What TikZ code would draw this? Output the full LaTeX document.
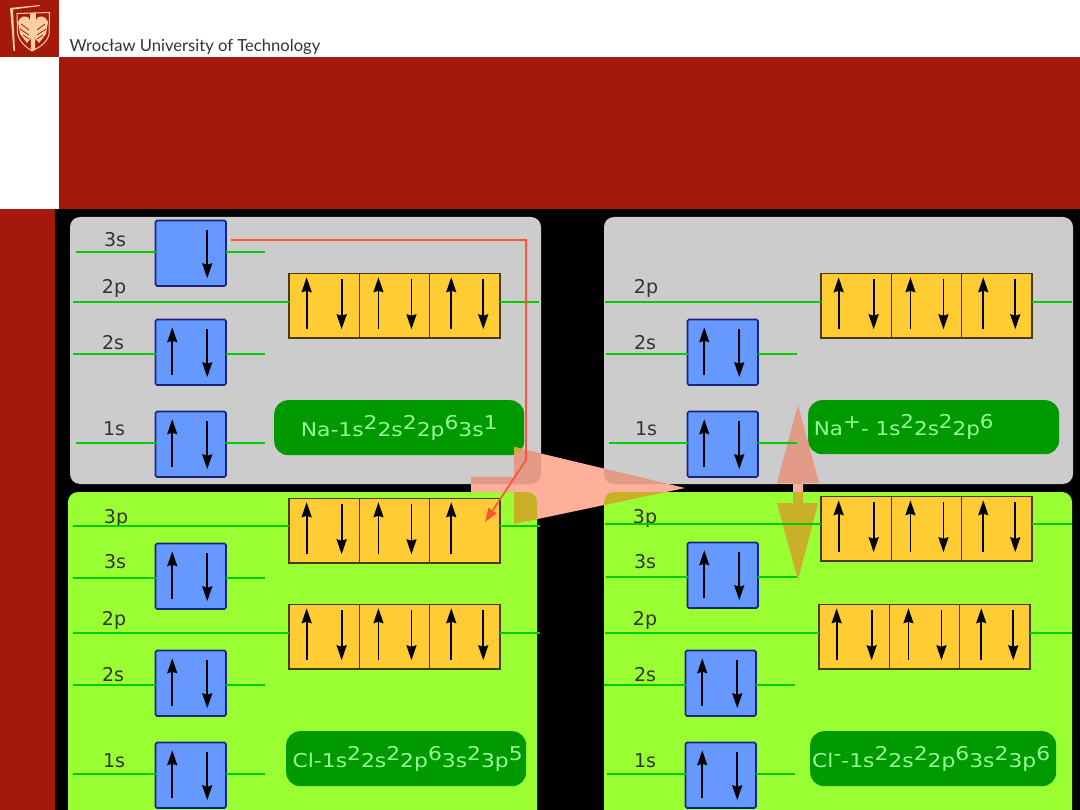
\documentclass[tikz,border=0pt]{standalone}
\usepackage{fontspec}
\usepackage{graphicx}
\setmainfont{DejaVu Sans}
\newfontfamily\brandfont{Lato}
\usetikzlibrary{arrows.meta}

\definecolor{brick}{HTML}{A5190D}
\definecolor{crest}{HTML}{FBCFA0}
\definecolor{panelgray}{HTML}{CCCCCC}
\definecolor{panelgreen}{HTML}{99FF33}
\definecolor{levelgreen}{HTML}{00CC00}
\definecolor{pillgreen}{HTML}{009900}
\definecolor{pilltext}{HTML}{99FF99}
\definecolor{sblue}{HTML}{6699FF}
\definecolor{sborder}{HTML}{1A237E}
\definecolor{pyellow}{HTML}{FFCC33}
\definecolor{pborder}{HTML}{4A3A10}
\definecolor{jump}{HTML}{FF5533}
\definecolor{overblack}{HTML}{FFB09A}
\definecolor{overgray}{HTML}{E09A86}
\definecolor{overgreen}{HTML}{C8B028}

% arrow outlines, each used for several tinted fills
\newcommand{\transferpath}{(471,477) -- (514,477) -- (514,447) -- (685,488) -- (514,524) -- (514,492) -- (471,492) -- cycle}
\newcommand{\swappath}{(798,405) -- (819,483) -- (803,483) -- (803,503) -- (818,503) -- (798,580) -- (777,503) -- (793,503) -- (793,483) -- (777,483) -- cycle}

% s orbital, one box
\newcommand{\sorbital}[3]{\node[sorb] (#1) at (#2,#3) {};}
% p orbitals, three cells side by side
\newcommand{\porbital}[3]{
    \node[porb] (#1a) at (#2,#3) {};
    \node[porb] (#1b) at (#1a.north east) {};
    \node[porb] (#1c) at (#1b.north east) {};}
\newcommand{\spinsup}[1]{\draw[spin] ([shift={(-18.5,23)}]#1.center) -- ([shift={(-18.5,-25)}]#1.center);}
\newcommand{\spinsdown}[1]{\draw[spin] ([shift={(16.5,-23)}]#1.center) -- ([shift={(16.5,25)}]#1.center);}
\newcommand{\spinspair}[1]{\spinsup{#1}\spinsdown{#1}}
\newcommand{\spinpup}[2][-17.5]{\draw[spin] ([shift={(#1,23.5)}]#2.center) -- ([shift={(#1,-28.5)}]#2.center);}
\newcommand{\spinpdown}[2][17.5]{\draw[spin] ([shift={(#1,-26.5)}]#2.center) -- ([shift={(#1,23.5)}]#2.center);}
\newcommand{\spinpfull}[1]{
    \spinpup{#1a}\spinpdown{#1a}
    \spinpup[-16]{#1b}\spinpdown[17]{#1b}
    \spinpup[-13.5]{#1c}\spinpdown[18.5]{#1c}}
% level line: free ends left and right of the orbital nodes
\newcommand{\levelline}[6]{
    \coordinate (#1l) at (#2,#4);
    \coordinate (#1r) at (#3,#4);
    \draw[level] (#1l) -- (#5.west |- #1l);
    \draw[level] (#6.east |- #1r) -- (#1r);}
\newcommand{\hi}[1]{\raisebox{7pt}{#1}}

\begin{document}
\begin{tikzpicture}[
        x=1pt, y=-1pt,
        sorb/.style={rectangle, draw=sborder, line width=1.6pt, rounded corners=1.5pt, fill=sblue, anchor=north west, outer sep=0pt, minimum width=70.5pt, minimum height=65.5pt, inner sep=0pt},
        porb/.style={rectangle, draw=pborder, line width=1.5pt, fill=pyellow, anchor=north west, outer sep=0pt, minimum width=70.3pt, minimum height=64.5pt, inner sep=0pt},
        level/.style={draw=levelgreen, line width=1.5pt},
        spin/.style={draw=black, line width=1.8pt, -{Stealth[length=15pt, width=10pt, inset=1.5pt]}},
        shell/.style={font=\fontsize{19}{19}\selectfont, text=black!80, inner sep=0pt},
        pill/.style={rectangle, rounded corners=14pt, fill=pillgreen, text=pilltext, anchor=north west, inner sep=0pt, font=\fontsize{19}{19}\selectfont},
    ]
    \useasboundingbox (0,0) rectangle (1080,810);

    % page background and title band
    \fill[white] (0,0) rectangle (1080,810);
    \fill[brick] (59,57) rectangle (1080,209);
    \fill[brick] (0,209) rectangle (55,810);
    \fill[black] (55,209) rectangle (1080,810);

    % crest
    \fill[brick] (0,0) rectangle (59,57);
    \fill[crest] (10,8) -- (40,5) -- (40,6) -- (13,9.5) -- (15,51) -- (13.5,51) -- cycle;
    \draw[crest, line width=1pt] (17,13.5) -- (49.5,12.5) -- (49,35) .. controls (46,44) and (38,48) .. (32,51) .. controls (26,47) and (19,42) .. (17.5,33) -- cycle;
    \fill[crest] (18,22) .. controls (20,16) and (26,15) .. (29,18) -- (31,24) -- (31,38) -- (27,43) -- (20,34) -- cycle;
    \fill[crest] (48,22) .. controls (46,16) and (40,15) .. (37,18) -- (35,24) -- (35,38) -- (39,43) -- (46,34) -- cycle;
    \fill[crest] (30,13) -- (36,13) -- (35,50) -- (31,50) -- cycle;
    \draw[brick, line width=.8pt] (21,24) -- (29,30) (20,29) -- (29,35) (23,35) -- (29,39) (45,24) -- (37,30) (46,29) -- (37,35) (43,35) -- (37,39);
    \node[anchor=base west, inner sep=0pt, text=black!80, font=\brandfont\fontsize{16.6}{16.6}\selectfont] (brand) at (69.5,52) {Wrocław University of Technology};

    % panels
    \fill[panelgray, rounded corners=10pt] (70,217) rectangle (541,484);
    \fill[panelgray, rounded corners=10pt] (604,217) rectangle (1073,484);
    \fill[panelgreen, rounded corners=10pt] (68,492) rectangle (537,822);
    \fill[panelgreen, rounded corners=10pt] (604,492) rectangle (1072,822);

    % electron configurations
    \node[pill, minimum width=250pt, minimum height=55pt] (naconf) at (274,400) {\scalebox{1.15}[1]{Na-1s\hi{2}2s\hi{2}2p\hi{6}3s\hi{1}}};
    \node[pill, minimum width=251pt, minimum height=54pt] (npconf) at (808,400) {\hspace{-60pt}\scalebox{1.13}[1]{Na\hi{+}- 1s\hi{2}2s\hi{2}2p\hi{6}}};
    \node[pill, minimum width=240pt, minimum height=55pt] (clconf) at (286,731) {\hspace{3pt}\scalebox{1.15}[1]{Cl-1s\hi{2}2s\hi{2}2p\hi{6}3s\hi{2}3p\hi{5}}};
    \node[pill, minimum width=246pt, minimum height=55pt] (cmconf) at (810,731) {\hspace{-4pt}\scalebox{1.15}[1]{Cl\hi{-}-1s\hi{2}2s\hi{2}2p\hi{6}3s\hi{2}3p\hi{6}}};

    % translucent arrows: each background shows through in its own tint
    \fill[overblack] \transferpath \swappath;
    \begin{scope}
        \clip[rounded corners=10pt] (70,217) rectangle (541,484);
        \fill[overgray] \transferpath;
    \end{scope}
    \begin{scope}
        \clip[rounded corners=10pt] (604,217) rectangle (1073,484);
        \fill[overgray] \transferpath \swappath;
    \end{scope}
    \begin{scope}
        \clip[rounded corners=10pt] (68,492) rectangle (537,822);
        \fill[overgreen] \transferpath;
    \end{scope}
    \begin{scope}
        \clip[rounded corners=10pt] (604,492) rectangle (1072,822);
        \fill[overgreen] \transferpath \swappath;
    \end{scope}
    \begin{scope}
        \clip[rounded corners=14pt] (274,400) rectangle (524,455);
        \fill[overgreen] \transferpath;
    \end{scope}
    \begin{scope}
        \clip[rounded corners=14pt] (808,400) rectangle (1059,454);
        \fill[overgreen] \swappath;
    \end{scope}

    % upper left, Na
    \node[shell] (na3st) at (115,240) {3s};
    \node[shell] (na2pt) at (114,288) {2p};
    \node[shell] (na2st) at (113,343) {2s};
    \node[shell] (na1st) at (114,429) {1s};
    \sorbital{nas3}{155.5}{220.5}
    \porbital{nap2}{289}{273.5}
    \sorbital{nas2}{155.5}{319.5}
    \sorbital{nas1}{155.5}{411.5}

    % upper right, Na+
    \node[shell] (np2pt) at (646,288) {2p};
    \node[shell] (np2st) at (645,343) {2s};
    \node[shell] (np1st) at (646,429) {1s};
    \porbital{npp2}{821}{273.5}
    \sorbital{nps2}{687.5}{319.5}
    \sorbital{nps1}{687.5}{411.5}

    % lower left, Cl
    \node[shell] (cl3pt) at (116,518) {3p};
    \node[shell] (cl3st) at (115,562) {3s};
    \node[shell] (cl2pt) at (114,620) {2p};
    \node[shell] (cl2st) at (113,675) {2s};
    \node[shell] (cl1st) at (114,761) {1s};
    \porbital{clp3}{289}{498.5}
    \sorbital{cls3}{155.5}{543.5}
    \porbital{clp2}{289}{604.5}
    \sorbital{cls2}{155.5}{650.5}
    \sorbital{cls1}{155.5}{742.5}

    % lower right, Cl-
    \node[shell] (cm3pt) at (645,518) {3p};
    \node[shell] (cm3st) at (645,562) {3s};
    \node[shell] (cm2pt) at (645,620) {2p};
    \node[shell] (cm2st) at (645,675) {2s};
    \node[shell] (cm1st) at (645,761) {1s};
    \porbital{cmp3}{821}{496.5}
    \sorbital{cms3}{687.5}{542.5}
    \porbital{cmp2}{819}{604.5}
    \sorbital{cms2}{685.5}{650.5}
    \sorbital{cms1}{685.5}{742.5}

    % level lines
    \levelline{na3s}{76}{265}{252}{nas3}{nas3}
    \levelline{na2p}{73}{539}{302}{nap2a}{nap2c}
    \levelline{na2s}{73}{265}{354}{nas2}{nas2}
    \levelline{na1s}{76}{265}{443}{nas1}{nas1}
    \levelline{np2p}{605}{1072}{302}{npp2a}{npp2c}
    \levelline{np2s}{606}{797}{354}{nps2}{nps2}
    \levelline{np1s}{609}{797}{443}{nps1}{nps1}
    \levelline{cl3p}{73}{540}{526}{clp3a}{clp3c}
    \levelline{cl3s}{73}{265}{578}{cls3}{cls3}
    \levelline{cl2p}{73}{540}{633}{clp2a}{clp2c}
    \levelline{cl2s}{73}{265}{685}{cls2}{cls2}
    \levelline{cl1s}{73}{265}{774}{cls1}{cls1}
    \levelline{cm3p}{605}{1072}{524}{cmp3a}{cmp3c}
    \levelline{cm3s}{606}{797}{577}{cms3}{cms3}
    \levelline{cm2p}{605}{1072}{633}{cmp2a}{cmp2c}
    \levelline{cm2s}{604}{795}{685}{cms2}{cms2}
    \levelline{cm1s}{607}{795}{774}{cms1}{cms1}

    % electrons
    \spinsdown{nas3}
    \spinspair{nas2} \spinspair{nas1}
    \spinpfull{nap2}
    \spinspair{nps2} \spinspair{nps1}
    \spinpfull{npp2}
    \spinspair{cls3} \spinspair{cls2} \spinspair{cls1}
    \spinpup{clp3a} \spinpdown{clp3a}
    \spinpup[-16]{clp3b} \spinpdown[17]{clp3b}
    \spinpup[-13.5]{clp3c}
    \spinpfull{clp2}
    \spinspair{cms3} \spinspair{cms2} \spinspair{cms1}
    \spinpfull{cmp3} \spinpfull{cmp2}

    % the 3s electron moves to the free 3p place
    \coordinate (jumpstart) at (231,240);
    \coordinate (jumpend) at (485,522);
    \draw[jump, line width=1.7pt, -{Stealth[length=14pt, width=10pt, inset=1pt]}] (jumpstart) -- (526,240) -- (526,460) -- (jumpend);
\end{tikzpicture}
\end{document}
